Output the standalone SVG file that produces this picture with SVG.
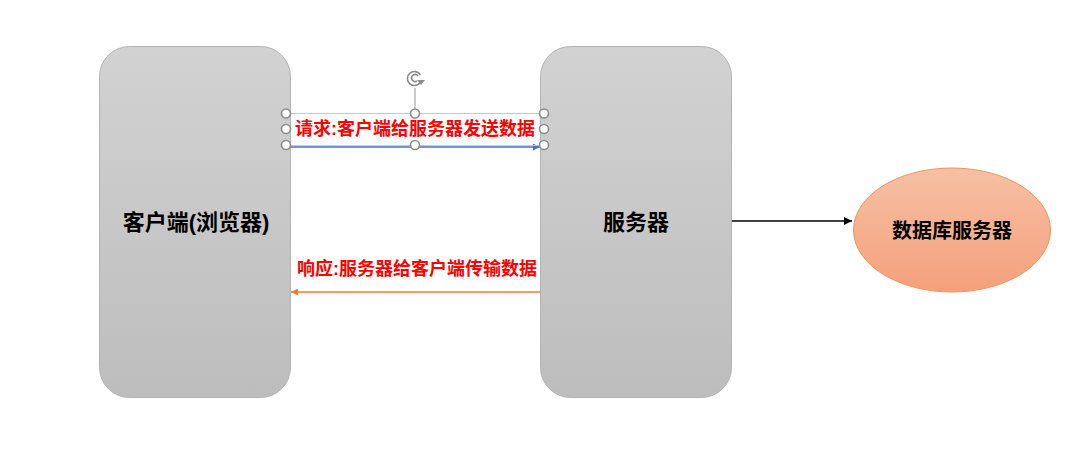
<svg xmlns="http://www.w3.org/2000/svg" width="1080" height="452" viewBox="0 0 1080 452">
<defs>
<linearGradient id="gGray" x1="0" y1="0" x2="0" y2="1">
<stop offset="0" stop-color="#d2d2d2"/>
<stop offset="1" stop-color="#bdbdbd"/>
</linearGradient>
<linearGradient id="gOrange" x1="0" y1="0" x2="0" y2="1">
<stop offset="0" stop-color="#f7c0a4"/>
<stop offset="1" stop-color="#f4a07c"/>
</linearGradient>
<marker id="aBlue" viewBox="0 0 10 10" refX="10" refY="5" markerWidth="7" markerHeight="7" markerUnits="userSpaceOnUse" orient="auto"><path d="M0,0L10,5L0,10z" fill="#4472c4"/></marker>
<marker id="aOrange" viewBox="0 0 10 10" refX="10" refY="5" markerWidth="7" markerHeight="7" markerUnits="userSpaceOnUse" orient="auto"><path d="M0,0L10,5L0,10z" fill="#ed7d31"/></marker>
<marker id="aBlack" viewBox="0 0 10 10" refX="10" refY="5" markerWidth="8" markerHeight="8" markerUnits="userSpaceOnUse" orient="auto"><path d="M0,0L10,5L0,10z" fill="#000"/></marker>
</defs>
<style>
.box{fill:url(#gGray);stroke:#b4b4b4;stroke-width:1}
.lbl{font-family:"Liberation Sans","Noto Sans CJK SC",sans-serif;font-weight:bold;text-anchor:middle}
.red{fill:#ff0000;font-size:18px}
.blk{fill:#000;font-size:22px}
.dbt{fill:#000;font-size:20px}
.h{fill:#fff;stroke:#8c8c8c;stroke-width:1.6}
</style>
<rect width="1080" height="452" fill="#fff"/>
<g id="client">
<rect class="box" x="99.5" y="46.5" width="191" height="351" rx="30"/>
<text class="lbl blk" x="196" y="230">客户端(浏览器)</text>
</g>
<g id="server">
<rect class="box" x="540.5" y="46.5" width="191" height="351" rx="30"/>
<text class="lbl blk" x="636" y="230">服务器</text>
</g>
<g id="db">
<ellipse cx="952" cy="230" rx="98.5" ry="62" fill="url(#gOrange)" stroke="#f0945c" stroke-width="1"/>
<text class="lbl dbt" x="952" y="238">数据库服务器</text>
</g>
<g id="connectors">
<line x1="285" y1="147" x2="540" y2="147" stroke="#4472c4" stroke-width="1.5" marker-end="url(#aBlue)"/>
<line x1="540" y1="292" x2="291" y2="292" stroke="#ed7d31" stroke-width="1.5" marker-end="url(#aOrange)"/>
<line x1="732" y1="221" x2="852" y2="221" stroke="#000" stroke-width="1.5" marker-end="url(#aBlack)"/>
</g>
<g id="request-label">
<rect x="285.5" y="113.5" width="259" height="32" fill="none" stroke="#c8c8c8" stroke-width="1"/>
<line x1="415" y1="88" x2="415" y2="113" stroke="#a6a6a6" stroke-width="1.2"/>
<text class="lbl red" x="415" y="135">请求:客户端给服务器发送数据</text>
<g fill="none" stroke="#8c8c8c" stroke-width="1.6">
<path d="M420.5,82 A7,7 0 1 1 420.5,75"/>
<path d="M417,81 A3.5,3.5 0 1 1 418,76"/>
</g>
<path d="M417,80 L425,80 L421,85 z" fill="#8c8c8c"/>
<circle class="h" cx="286" cy="113.5" r="4.5"/>
<circle class="h" cx="415" cy="113.5" r="4.5"/>
<circle class="h" cx="544" cy="113.5" r="4.5"/>
<circle class="h" cx="286" cy="129" r="4.5"/>
<circle class="h" cx="544" cy="129" r="4.5"/>
<circle class="h" cx="286" cy="145" r="4.5"/>
<circle class="h" cx="415" cy="145" r="4.5"/>
<circle class="h" cx="544" cy="145" r="4.5"/>
</g>
<g id="response-label">
<text class="lbl red" x="417" y="275">响应:服务器给客户端传输数据</text>
</g>
</svg>
